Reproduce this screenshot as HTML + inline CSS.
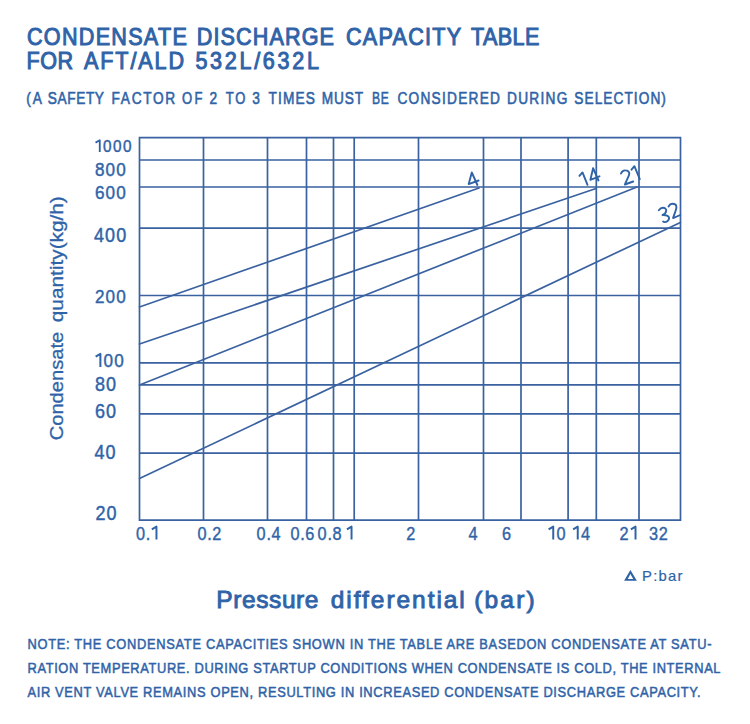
<!DOCTYPE html>
<html><head><meta charset="utf-8">
<style>
html,body{margin:0;padding:0;background:#fff;width:750px;height:724px;overflow:hidden;}
svg{display:block;}
text{font-family:"Liberation Sans",sans-serif;fill:#2f63a8;}
</style></head>
<body>
<svg width="750" height="724" viewBox="0 0 750 724">
<rect width="750" height="724" fill="#fff"/>
<g class="titles">
<text x="29.03" y="45.2" font-size="23.2" transform="scale(0.93 1)" stroke="#2f63a8" stroke-width="1.0" textLength="171.83" lengthAdjust="spacing">CONDENSATE</text>
<text x="211.61" y="45.2" font-size="23.2" transform="scale(0.93 1)" stroke="#2f63a8" stroke-width="1.0" textLength="147.53" lengthAdjust="spacing">DISCHARGE</text>
<text x="372.04" y="45.2" font-size="23.2" transform="scale(0.93 1)" stroke="#2f63a8" stroke-width="1.0" textLength="123.76" lengthAdjust="spacing">CAPACITY</text>
<text x="506.34" y="45.2" font-size="23.2" transform="scale(0.93 1)" stroke="#2f63a8" stroke-width="1.0" textLength="73.66" lengthAdjust="spacing">TABLE</text>
<text x="28.49" y="69.3" font-size="23.2" transform="scale(0.93 1)" stroke="#2f63a8" stroke-width="1.0" textLength="50.11" lengthAdjust="spacing">FOR</text>
<text x="90.32" y="69.3" font-size="23.2" transform="scale(0.93 1)" stroke="#2f63a8" stroke-width="1.0" textLength="107.53" lengthAdjust="spacing">AFT/ALD</text>
<text x="210.11" y="69.3" font-size="23.2" transform="scale(0.93 1)" stroke="#2f63a8" stroke-width="1.0" textLength="132.80" lengthAdjust="spacing">532L/632L</text>
<text x="31.31" y="103.9" font-size="16.3" transform="scale(0.84 1)" stroke="#2f63a8" stroke-width="0.6" textLength="18.57" lengthAdjust="spacing">(A</text>
<text x="56.79" y="103.9" font-size="16.3" transform="scale(0.84 1)" stroke="#2f63a8" stroke-width="0.6" textLength="67.02" lengthAdjust="spacing">SAFETY</text>
<text x="132.86" y="103.9" font-size="16.3" transform="scale(0.84 1)" stroke="#2f63a8" stroke-width="0.6" textLength="75.71" lengthAdjust="spacing">FACTOR</text>
<text x="227.50" y="103.9" font-size="16.3" transform="scale(0.8 1)" stroke="#2f63a8" stroke-width="0.6" textLength="25.75" lengthAdjust="spacing">OF</text>
<text x="249.29" y="103.9" font-size="16.3" transform="scale(0.84 1)" stroke="#2f63a8" stroke-width="0.6" textLength="12.38" lengthAdjust="spacing">2</text>
<text x="282.25" y="103.9" font-size="16.3" transform="scale(0.8 1)" stroke="#2f63a8" stroke-width="0.6" textLength="24.50" lengthAdjust="spacing">TO</text>
<text x="300.24" y="103.9" font-size="16.3" transform="scale(0.84 1)" stroke="#2f63a8" stroke-width="0.6" textLength="12.38" lengthAdjust="spacing">3</text>
<text x="319.76" y="103.9" font-size="16.3" transform="scale(0.84 1)" stroke="#2f63a8" stroke-width="0.6" textLength="55.00" lengthAdjust="spacing">TIMES</text>
<text x="383.10" y="103.9" font-size="16.3" transform="scale(0.84 1)" stroke="#2f63a8" stroke-width="0.6" textLength="49.05" lengthAdjust="spacing">MUST</text>
<text x="502.84" y="103.9" font-size="16.3" transform="scale(0.74 1)" stroke="#2f63a8" stroke-width="0.6" textLength="22.57" lengthAdjust="spacing">BE</text>
<text x="473.10" y="103.9" font-size="16.3" transform="scale(0.84 1)" stroke="#2f63a8" stroke-width="0.6" textLength="122.14" lengthAdjust="spacing">CONSIDERED</text>
<text x="603.57" y="103.9" font-size="16.3" transform="scale(0.84 1)" stroke="#2f63a8" stroke-width="0.6" textLength="71.79" lengthAdjust="spacing">DURING</text>
<text x="683.69" y="103.9" font-size="16.3" transform="scale(0.84 1)" stroke="#2f63a8" stroke-width="0.6" textLength="109.05" lengthAdjust="spacing">SELECTION)</text>
</g>
<g class="grid" stroke="#3a62a0" stroke-width="1.7" fill="none" stroke-linecap="square">
<path d="M139.5 137.7V520.2M203.5 137.7V520.2M267.5 137.7V520.2M306.5 137.7V520.2M333.5 137.7V520.2M354.2 137.7V520.2M418.5 137.7V520.2M483.5 137.7V520.2M521 137.7V520.2M568.1 137.7V520.2M596.3 137.7V520.2M639 137.7V520.2M680.5 137.7V520.2M139.5 137.7H680.5M139.5 160H680.5M139.5 187H680.5M139.5 228.2H680.5M139.5 295.5H680.5M139.5 362.8H680.5M139.5 384.9H680.5M139.5 413.9H680.5M139.5 453.2H680.5M139.5 520.2H680.5"/>
</g>
<g class="curves" stroke="#3a62a0" stroke-width="1.7" fill="none" stroke-linecap="round">
<path d="M139.5 307L479 188"/>
<path d="M139.5 344L596 188.5"/>
<path d="M139.5 385L637 187"/>
<path d="M139.5 478.5L680.4 222.4"/>
</g>
<g class="clabels" stroke="#2f63a8" stroke-width="1.9" fill="none" stroke-linecap="round" stroke-linejoin="round">
<path d="M471.8 172.5 L468.7 184.1 L478.6 180.5 M471.8 172.5 L477.4 185"/>
<path d="M579.4 175.9 L582.5 172.4 L587.5 184.8"/>
<path d="M593.1 168.2 L590.4 179.8 L599.5 176.3 M593.1 168.2 L598.5 180.5"/>
<path d="M621 173.5 C622 171 624 170.2 625.5 170.4 C628 170.5 629.5 172 629.3 173.8 C629 176.5 626 181 624.9 184.5 L633.2 181.5"/>
<path d="M631.5 169.7 L634.4 166.2 L639.8 179.1"/>
<path d="M658.8 210.2 C660 208.5 661.5 207.6 663.1 207.7 C665 207.8 666.3 209 666.2 210.6 C666 212.8 664 214.5 662.5 215 C666 214.8 669 216 669.1 218 C669.2 220.5 666.5 222.2 664.6 222.1 C664 222 663.5 221.9 663.1 221.6"/>
<path d="M668.5 206.5 C669.5 204.8 671 203.8 672.2 203.8 C674.5 203.8 676.4 205 676.4 207 C676.4 210 674 214.5 673.1 218.1 L680.3 215"/>
</g>
<g class="ylabels">
<path d="M95.52 142.65L99.77 140.19V152" fill="none" stroke="#2f63a8" stroke-width="1.83" stroke-linejoin="round"/>
<text transform="translate(103.10 152) scale(0.9 1)" x="0" y="0" font-size="17" stroke="#2f63a8" stroke-width="0.45">0</text>
<text transform="translate(113.07 152) scale(0.9 1)" x="0" y="0" font-size="17" stroke="#2f63a8" stroke-width="0.45">0</text>
<text transform="translate(123.03 152) scale(0.9 1)" x="0" y="0" font-size="17" stroke="#2f63a8" stroke-width="0.45">0</text>
<text transform="translate(95.00 176.2) scale(0.9 1)" x="0" y="0" font-size="19" stroke="#2f63a8" stroke-width="0.45">8</text>
<text transform="translate(105.56 176.2) scale(0.9 1)" x="0" y="0" font-size="19" stroke="#2f63a8" stroke-width="0.45">0</text>
<text transform="translate(116.13 176.2) scale(0.9 1)" x="0" y="0" font-size="19" stroke="#2f63a8" stroke-width="0.45">0</text>
<text transform="translate(95.00 199.1) scale(0.9 1)" x="0" y="0" font-size="19" stroke="#2f63a8" stroke-width="0.45">6</text>
<text transform="translate(105.56 199.1) scale(0.9 1)" x="0" y="0" font-size="19" stroke="#2f63a8" stroke-width="0.45">0</text>
<text transform="translate(116.13 199.1) scale(0.9 1)" x="0" y="0" font-size="19" stroke="#2f63a8" stroke-width="0.45">0</text>
<text transform="translate(94.00 241.9) scale(0.9 1)" x="0" y="0" font-size="20" stroke="#2f63a8" stroke-width="0.45">4</text>
<text transform="translate(105.12 241.9) scale(0.9 1)" x="0" y="0" font-size="20" stroke="#2f63a8" stroke-width="0.45">0</text>
<text transform="translate(116.24 241.9) scale(0.9 1)" x="0" y="0" font-size="20" stroke="#2f63a8" stroke-width="0.45">0</text>
<text transform="translate(95.00 302.9) scale(0.9 1)" x="0" y="0" font-size="19" stroke="#2f63a8" stroke-width="0.45">2</text>
<text transform="translate(105.56 302.9) scale(0.9 1)" x="0" y="0" font-size="19" stroke="#2f63a8" stroke-width="0.45">0</text>
<text transform="translate(116.13 302.9) scale(0.9 1)" x="0" y="0" font-size="19" stroke="#2f63a8" stroke-width="0.45">0</text>
<path d="M95.64 356.65L100.39 353.90V367.1" fill="none" stroke="#2f63a8" stroke-width="2.01" stroke-linejoin="round"/>
<text transform="translate(103.62 367.1) scale(0.9 1)" x="0" y="0" font-size="19" stroke="#2f63a8" stroke-width="0.45">0</text>
<text transform="translate(114.18 367.1) scale(0.9 1)" x="0" y="0" font-size="19" stroke="#2f63a8" stroke-width="0.45">0</text>
<text transform="translate(95.00 390.9) scale(0.9 1)" x="0" y="0" font-size="20" stroke="#2f63a8" stroke-width="0.45">8</text>
<text transform="translate(106.12 390.9) scale(0.9 1)" x="0" y="0" font-size="20" stroke="#2f63a8" stroke-width="0.45">0</text>
<text transform="translate(95.00 418.4) scale(0.9 1)" x="0" y="0" font-size="20" stroke="#2f63a8" stroke-width="0.45">6</text>
<text transform="translate(106.12 418.4) scale(0.9 1)" x="0" y="0" font-size="20" stroke="#2f63a8" stroke-width="0.45">0</text>
<text transform="translate(94.50 458.6) scale(0.9 1)" x="0" y="0" font-size="20" stroke="#2f63a8" stroke-width="0.45">4</text>
<text transform="translate(105.62 458.6) scale(0.9 1)" x="0" y="0" font-size="20" stroke="#2f63a8" stroke-width="0.45">0</text>
<text transform="translate(95.50 520.3) scale(0.9 1)" x="0" y="0" font-size="20" stroke="#2f63a8" stroke-width="0.45">2</text>
<text transform="translate(106.62 520.3) scale(0.9 1)" x="0" y="0" font-size="20" stroke="#2f63a8" stroke-width="0.45">0</text>
</g>
<g class="xlabels">
<text transform="translate(136.00 539.5) scale(0.88 1)" x="0" y="0" font-size="18.5" stroke="#2f63a8" stroke-width="0.4">0</text>
<text transform="translate(145.82 539.5) scale(0.88 1)" x="0" y="0" font-size="18.5" stroke="#2f63a8" stroke-width="0.4">.</text>
<path d="M151.84 529.33L156.46 526.64V539.5" fill="none" stroke="#2f63a8" stroke-width="1.97" stroke-linejoin="round"/>
<text transform="translate(197.50 539.5) scale(0.88 1)" x="0" y="0" font-size="18.5" stroke="#2f63a8" stroke-width="0.4">0</text>
<text transform="translate(207.26 539.5) scale(0.88 1)" x="0" y="0" font-size="18.5" stroke="#2f63a8" stroke-width="0.4">.</text>
<text transform="translate(212.14 539.5) scale(0.88 1)" x="0" y="0" font-size="18.5" stroke="#2f63a8" stroke-width="0.4">2</text>
<text transform="translate(256.50 539.5) scale(0.88 1)" x="0" y="0" font-size="18.5" stroke="#2f63a8" stroke-width="0.4">0</text>
<text transform="translate(266.50 539.5) scale(0.88 1)" x="0" y="0" font-size="18.5" stroke="#2f63a8" stroke-width="0.4">.</text>
<text transform="translate(271.50 539.5) scale(0.88 1)" x="0" y="0" font-size="18.5" stroke="#2f63a8" stroke-width="0.4">4</text>
<text transform="translate(290.50 539.5) scale(0.88 1)" x="0" y="0" font-size="18.5" stroke="#2f63a8" stroke-width="0.4">0</text>
<text transform="translate(300.34 539.5) scale(0.88 1)" x="0" y="0" font-size="18.5" stroke="#2f63a8" stroke-width="0.4">.</text>
<text transform="translate(305.26 539.5) scale(0.88 1)" x="0" y="0" font-size="18.5" stroke="#2f63a8" stroke-width="0.4">6</text>
<text transform="translate(317.50 539.5) scale(0.88 1)" x="0" y="0" font-size="18.5" stroke="#2f63a8" stroke-width="0.4">0</text>
<text transform="translate(327.42 539.5) scale(0.88 1)" x="0" y="0" font-size="18.5" stroke="#2f63a8" stroke-width="0.4">.</text>
<text transform="translate(332.38 539.5) scale(0.88 1)" x="0" y="0" font-size="18.5" stroke="#2f63a8" stroke-width="0.4">8</text>
<path d="M346.91 529.33L351.54 526.64V539.5" fill="none" stroke="#2f63a8" stroke-width="1.97" stroke-linejoin="round"/>
<text transform="translate(406.30 539.5) scale(0.88 1)" x="0" y="0" font-size="18.5" stroke="#2f63a8" stroke-width="0.4">2</text>
<text transform="translate(468.50 539.5) scale(0.88 1)" x="0" y="0" font-size="18.5" stroke="#2f63a8" stroke-width="0.4">4</text>
<text transform="translate(502.00 539.5) scale(0.88 1)" x="0" y="0" font-size="18.5" stroke="#2f63a8" stroke-width="0.4">6</text>
<path d="M548.61 529.33L553.24 526.64V539.5" fill="none" stroke="#2f63a8" stroke-width="1.97" stroke-linejoin="round"/>
<text transform="translate(556.38 539.5) scale(0.88 1)" x="0" y="0" font-size="18.5" stroke="#2f63a8" stroke-width="0.4">0</text>
<path d="M573.11 529.33L577.74 526.64V539.5" fill="none" stroke="#2f63a8" stroke-width="1.97" stroke-linejoin="round"/>
<text transform="translate(580.88 539.5) scale(0.88 1)" x="0" y="0" font-size="18.5" stroke="#2f63a8" stroke-width="0.4">4</text>
<text transform="translate(619.50 539.5) scale(0.88 1)" x="0" y="0" font-size="18.5" stroke="#2f63a8" stroke-width="0.4">2</text>
<path d="M630.90 529.33L635.52 526.64V539.5" fill="none" stroke="#2f63a8" stroke-width="1.97" stroke-linejoin="round"/>
<text transform="translate(649.00 539.5) scale(0.88 1)" x="0" y="0" font-size="18.5" stroke="#2f63a8" stroke-width="0.4">3</text>
<text transform="translate(658.75 539.5) scale(0.88 1)" x="0" y="0" font-size="18.5" stroke="#2f63a8" stroke-width="0.4">2</text>
</g>
<g class="ytitle" transform="translate(62.9 440) rotate(-90)">
<text x="-0.3" y="0" font-size="18.8" stroke="#2f63a8" stroke-width="0.3" textLength="108.5" lengthAdjust="spacingAndGlyphs">Condensate</text>
<text x="117.8" y="0" font-size="18.8" stroke="#2f63a8" stroke-width="0.3" textLength="126" lengthAdjust="spacingAndGlyphs">quantity(kg/h)</text>
</g>
<path class="tri" d="M630.4 570.1L624.1 580.8L636.9 580.8ZM630.4 573.9L627.8 578.9L633.2 578.9Z" fill="#2f63a8" fill-rule="evenodd"/>
<text x="642.00" y="580.7" font-size="14.8" transform="scale(1.0 1)" stroke="#2f63a8" stroke-width="0.2" textLength="40.50" lengthAdjust="spacing">P:bar</text>
<text x="216.30" y="608.4" font-size="24.5" transform="scale(1.0 1)" stroke="#2f63a8" stroke-width="0.9" textLength="102.20" lengthAdjust="spacing">Pressure</text>
<text x="330.80" y="608.4" font-size="24.5" transform="scale(1.0 1)" stroke="#2f63a8" stroke-width="0.9" textLength="134.00" lengthAdjust="spacing">differential</text>
<text x="474.20" y="608.4" font-size="24.5" transform="scale(1.0 1)" stroke="#2f63a8" stroke-width="0.9" textLength="60.50" lengthAdjust="spacing">(bar)</text>
<g class="note">
<text x="30.56" y="649.2" font-size="14.3" transform="scale(0.9 1)" stroke="#2f63a8" stroke-width="0.5" textLength="760.00" lengthAdjust="spacing">NOTE: THE CONDENSATE CAPACITIES SHOWN IN THE TABLE ARE BASEDON CONDENSATE AT SATU-</text>
<text x="30.56" y="673.2" font-size="14.3" transform="scale(0.9 1)" stroke="#2f63a8" stroke-width="0.5" textLength="770.00" lengthAdjust="spacing">RATION TEMPERATURE. DURING STARTUP CONDITIONS WHEN CONDENSATE IS COLD, THE INTERNAL</text>
<text x="30.56" y="697.5" font-size="14.3" transform="scale(0.9 1)" stroke="#2f63a8" stroke-width="0.5" textLength="747.78" lengthAdjust="spacing">AIR VENT VALVE REMAINS OPEN, RESULTING IN INCREASED CONDENSATE DISCHARGE CAPACITY.</text>
</g>
</svg>
</body></html>
